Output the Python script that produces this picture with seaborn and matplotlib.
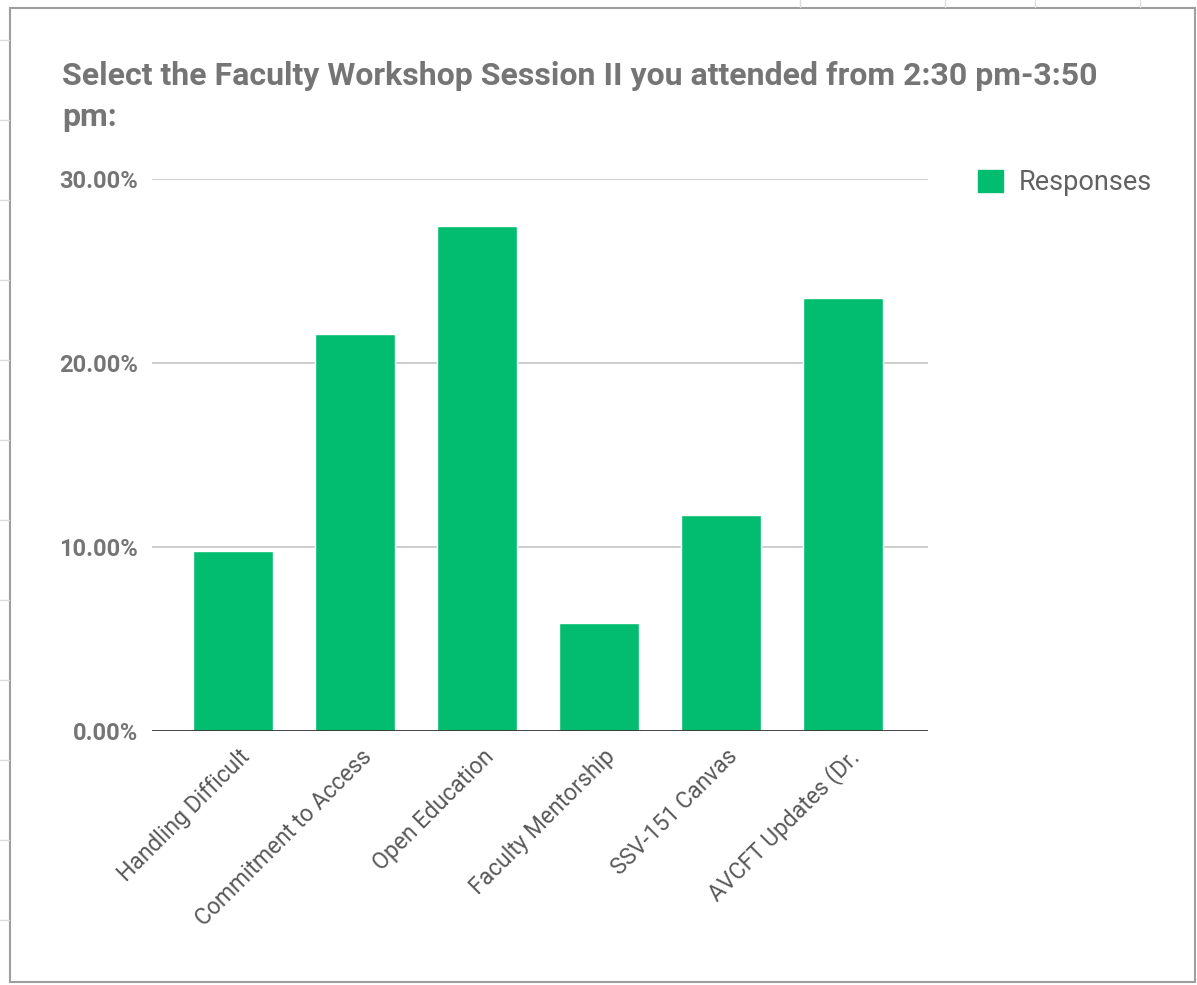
import pandas as pd
import seaborn as sns
import matplotlib.pyplot as plt
import matplotlib.transforms as mtransforms
from matplotlib.patches import Patch, Rectangle
from matplotlib.lines import Line2D
from matplotlib.ticker import FuncFormatter

# Dados
sessions = ['Handling Difficult', 'Commitment to Access', 'Open Education',
            'Faculty Mentorship', 'SSV-151 Canvas', 'AVCFT Updates (Dr.']
responses = [9.80, 21.57, 27.45, 5.88, 11.76, 23.53]
series_name = 'Responses'
title = 'Select the Faculty Workshop Session II you attended from 2:30 pm-3:50\npm:'
y_ticks = [0, 10, 20, 30]

green = '#02bd6f'
grey_text = '#757575'

df = pd.DataFrame({'session': sessions, 'pct': responses})

sns.set_theme(style='white')
plt.rcParams['font.family'] = ['Roboto', 'DejaVu Sans']

fig = plt.figure(figsize=(11.97, 9.85), dpi=100)
ax = fig.add_axes([152 / 1197, 1 - 731 / 985, (928 - 152) / 1197, (731 - 179) / 985])

sns.barplot(data=df, x='session', y='pct', color=green, width=0.656,
            saturation=1, ax=ax)

ax.set_ylim(0, 30)
ax.set_xlim(-0.664, 5.697)
ax.set_yticks(y_ticks)
ax.yaxis.set_major_formatter(FuncFormatter(lambda v, p: f'{v:.2f}%'))
ax.set_xlabel('')
ax.set_ylabel('')

# grade
for v in y_ticks[1:]:
    ax.axhline(v, color='#c6c6c6', lw=1.2, zorder=0)
ax.axhline(0, color='#333333', lw=2, zorder=3)
for s in ax.spines.values():
    s.set_visible(False)

ax.tick_params(axis='y', length=0, pad=10, labelsize=17, labelcolor=grey_text)
for lbl in ax.get_yticklabels():
    lbl.set_fontweight('bold')
ax.tick_params(axis='x', length=0, pad=16, labelsize=16.5, labelcolor='#595959')
offset = mtransforms.ScaledTranslation(0.13, 0, fig.dpi_scale_trans)
for lbl in ax.get_xticklabels():
    lbl.set_rotation(45)
    lbl.set_ha('right')
    lbl.set_rotation_mode('anchor')
    lbl.set_va('center')
    lbl.set_transform(lbl.get_transform() + offset)

# titulo
fig.text(62 / 1197, 1 - 61 / 985, title, ha='left', va='top', fontsize=23,
         fontweight='bold', color=grey_text, linespacing=1.45)

# legenda
ax.legend(handles=[Patch(facecolor=green, edgecolor=green, label=series_name)],
          loc='upper left', bbox_to_anchor=(954 / 1197, 1 - 145 / 985),
          bbox_transform=fig.transFigure, frameon=False, fontsize=19.5,
          handlelength=0.9, handleheight=0.9, handletextpad=0.6,
          labelcolor='#616161')

# moldura da planilha
fig.add_artist(Rectangle((10 / 1197, 3 / 985), 1185 / 1197, 974 / 985,
                         transform=fig.transFigure, fill=False,
                         edgecolor='#9e9e9e', lw=1.5))
for yy in [40, 120, 200, 280, 360, 440, 520, 600, 680, 760, 840, 920]:
    fig.add_artist(Line2D([0, 9 / 1197], [1 - yy / 985] * 2,
                          transform=fig.transFigure, color='#dddddd', lw=1))
for xx in [800, 945, 1035, 1140]:
    fig.add_artist(Line2D([xx / 1197] * 2, [1 - 7 / 985, 1],
                          transform=fig.transFigure, color='#dddddd', lw=1))

plt.savefig('out.png', dpi=100)
plt.close()
